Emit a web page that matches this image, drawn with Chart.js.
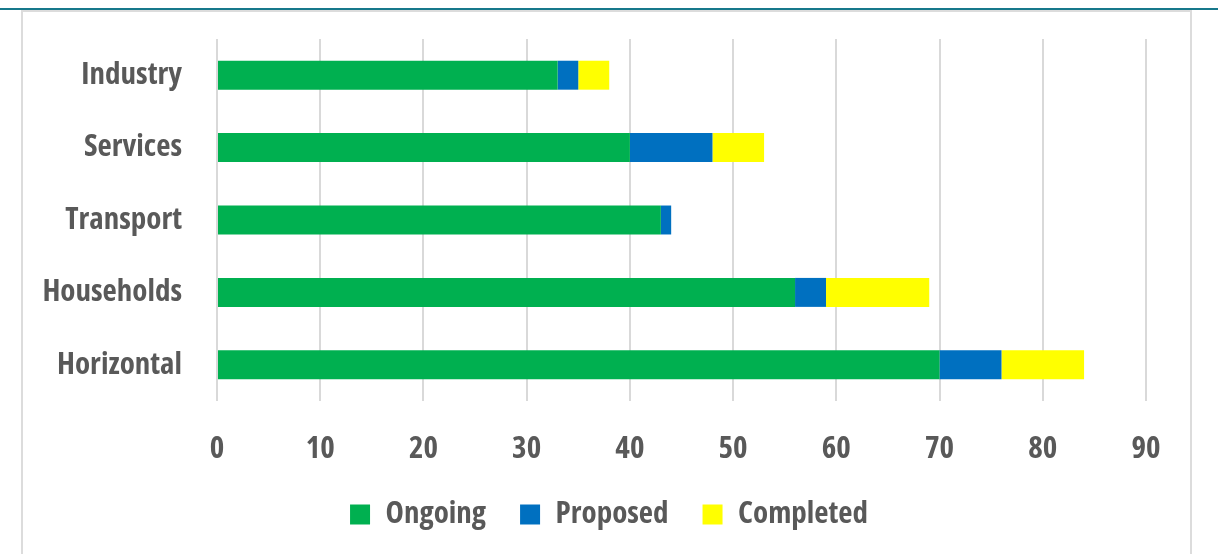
<!DOCTYPE html>
<html>
<head>
<meta charset="utf-8">
<script src="https://cdn.jsdelivr.net/npm/chart.js@4.4.1/dist/chart.umd.min.js"></script>
<style>
  html, body { margin: 0; padding: 0; background: #fff; overflow: hidden; }
  #wrap { position: relative; width: 1218px; height: 554px; overflow: hidden; }
  #frame { position: absolute; left: 21px; top: 10px; width: 1171px; height: 600px; box-sizing: border-box; border: 2px solid #dcdcdc; }
  #topline { position: absolute; left: 0; top: 8px; width: 1218px; height: 2px; background: #17788b; }
  #chart { position: absolute; left: 0; top: 0; }
</style>
</head>
<body>
<div id="wrap">
  <div id="frame"></div>
  <div id="topline"></div>
  <canvas id="chart" width="1218" height="554"></canvas>
</div>
<script>
// data
const categories = ["Industry", "Services", "Transport", "Households", "Horizontal"];
const ongoing = [33, 40, 43, 56, 70];
const proposed = [2, 8, 1, 3, 6];
const completed = [3, 5, 0, 10, 8];
const xMax = 90;
const xStep = 10;

const textColor = "#595959";
const gridColor = "#d9d9d9";
const labelFont = { family: "'Open Sans', sans-serif", size: 31, weight: "bold condensed" };

// center the legend on the whole canvas, not just the area left of the right padding
const centerLegend = {
  id: "centerLegend",
  afterLayout(chart) {
    const lg = chart.legend;
    lg.left = 0;
    lg.right = chart.width;
    lg.width = chart.width;
  }
};

const ctx = document.getElementById("chart").getContext("2d");
new Chart(ctx, {
  type: "bar",
  data: {
    labels: categories,
    datasets: [
      { label: "Ongoing", data: ongoing, backgroundColor: "#00b050" },
      { label: "Proposed", data: proposed, backgroundColor: "#0070c0" },
      { label: "Completed", data: completed, backgroundColor: "#ffff00" }
    ]
  },
  options: {
    indexAxis: "y",
    responsive: false,
    animation: false,
    devicePixelRatio: 1,
    barPercentage: 0.8,
    categoryPercentage: 0.5,
    layout: { padding: { left: 0, right: 72, top: 39, bottom: 14 } },
    scales: {
      x: {
        stacked: true,
        min: 0,
        max: xMax,
        border: { display: false },
        grid: { color: gridColor, lineWidth: 2, drawTicks: false },
        ticks: { stepSize: xStep, color: textColor, font: labelFont, padding: 30 },
        afterFit: (scale) => {
          scale.height = 64;
          scale.paddingLeft = 0;
          scale.paddingRight = 0;
        }
      },
      y: {
        stacked: true,
        border: { display: false },
        grid: { display: false, drawTicks: false },
        ticks: { color: textColor, font: labelFont, padding: 35 },
        afterFit: (scale) => {
          scale.width = 217;
          scale.paddingTop = 0;
          scale.paddingBottom = 0;
        }
      }
    },
    plugins: {
      legend: {
        position: "bottom",
        labels: { color: textColor, font: labelFont, boxWidth: 20, boxHeight: 20, padding: 34 }
      },
      tooltip: { enabled: false }
    }
  },
  plugins: [centerLegend]
});
</script>
</body>
</html>
